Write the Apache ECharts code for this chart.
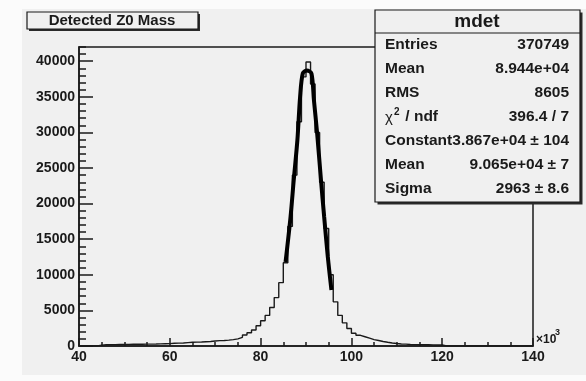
<!DOCTYPE html>
<html><head><meta charset="utf-8">
<script src="https://cdn.jsdelivr.net/npm/echarts@6/dist/echarts.min.js"></script>
<style>
html,body{margin:0;padding:0;background:#fbfbfb;}
#wrap{position:relative;width:586px;height:381px;overflow:hidden;}
#pad{position:absolute;left:22px;top:9px;width:564px;height:366px;background:#f0f0f0;}
#c{position:absolute;left:0;top:0;width:586px;height:381px;}
</style>
</head><body><div id="wrap"><div id="pad"></div><div id="c"></div></div>
<script>
// Histogram "mdet": bins of width 1 (x10^3) from 40 to 140
const binStart = 40;
const binWidth = 1;
const counts = [
  0, 0, 0, 0, 120, 180, 200, 200, 210, 220,          // 40-49
  230, 240, 240, 250, 260, 270, 280, 300, 320, 340,  // 50-59
  380, 400, 420, 480, 520, 540, 560, 600, 640, 700,  // 60-69
  750, 780, 820, 900, 1000, 1220, 1540, 1870, 2250, 2850, // 70-79
  3550, 4300, 5400, 6800, 8900, 11700, 16800, 24000, 31500, 37800, // 80-89
  39900, 36800, 30000, 23000, 16500, 10000, 6200, 4300, 3250, 2450, // 90-99
  1800, 1500, 1300, 1100, 900, 780, 640, 520, 420, 350, // 100-109
  290, 260, 220, 200, 190, 180, 170, 160, 150, 140,     // 110-119
  0, 0, 0, 0, 0, 0, 0, 0, 0, 0,                         // 120-129
  0, 0, 0, 0, 0, 0, 0, 0, 0, 0                          // 130-139
];
// Gaussian fit curve
const fitX = [85.5, 86.6, 87.3, 88.1, 88.7, 89.3, 90.2, 91.2, 91.75, 92.45, 93.3, 94.0, 94.8, 95.6];
const fitY = [11800, 18150, 23300, 28900, 35000, 38300, 38700, 38300, 34500, 29900, 23300, 18150, 12530, 7860];

const titleText = 'Detected Z0 Mass';
const statsName = 'mdet';
const statsLabels = ['Entries', 'Mean', 'RMS', 'CHI', 'Constant', 'Mean', 'Sigma'];
const statsValues = ['370749', '8.944e+04', '8605', '396.4 / 7', '3.867e+04 \u00b1 104', '9.065e+04 \u00b1 7', '2963 \u00b1 8.6'];
const xMin = 40, xMax = 140, xStep = 20;
const yMin = 0, yMax = 42000, yStep = 5000, yMinorStep = 1000;

const FONT = '"Liberation Sans", Arial, Helvetica, sans-serif';
const INK = '#1a1a1a';

const histData = counts.map((v, i) => [binStart + i * binWidth, v]);
histData.push([binStart + counts.length * binWidth, counts[counts.length - 1]]);
const fitData = fitX.map((x, i) => [x, fitY[i]]);

const chart = echarts.init(document.getElementById('c'), null, {renderer: 'canvas'});

const rowY0 = 44.5, rowDy = 24.1;
const SF = 'bold 15.5px ' + FONT;
const statsChildren = [
  {type: 'rect', shape: {x: 377.5, y: 12.5, width: 205, height: 192}, style: {fill: '#2a2a2a'}},
  {type: 'rect', shape: {x: 375, y: 10, width: 205, height: 192}, style: {fill: '#f0f0f0', stroke: INK, lineWidth: 1.2}},
  {type: 'line', shape: {x1: 375, y1: 33, x2: 580, y2: 33}, style: {stroke: INK, lineWidth: 1.2}},
  {type: 'text', x: 477, y: 22, style: {text: statsName, font: 'bold 19px ' + FONT, fill: INK, align: 'center', verticalAlign: 'middle'}}
];
statsLabels.forEach((lab, i) => {
  const y = rowY0 + i * rowDy;
  if (lab === 'CHI') {
    statsChildren.push({type: 'text', x: 385, y: y + 1, style: {text: '\u03c7', font: '15px ' + FONT, fill: INK, align: 'left', verticalAlign: 'middle'}});
    statsChildren.push({type: 'text', x: 394, y: y - 5, style: {text: '2', font: 'bold 10px ' + FONT, fill: INK, align: 'left', verticalAlign: 'middle'}});
    statsChildren.push({type: 'text', x: 401, y: y, style: {text: ' / ndf', font: SF, fill: INK, align: 'left', verticalAlign: 'middle'}});
  } else {
    statsChildren.push({type: 'text', x: 385, y: y, style: {text: lab, font: SF, fill: INK, align: 'left', verticalAlign: 'middle'}});
  }
  statsChildren.push({type: 'text', x: 569, y: y, style: {text: statsValues[i], font: SF, fill: INK, align: 'right', verticalAlign: 'middle'}});
});

const option = {
  backgroundColor: 'transparent',
  animation: false,
  grid: {left: 79, top: 47, right: 53, bottom: 35, show: true, borderColor: INK, borderWidth: 1.5, backgroundColor: 'transparent'},
  xAxis: {
    type: 'value', min: xMin, max: xMax, interval: xStep,
    axisLine: {show: true, lineStyle: {color: INK, width: 1.6}},
    axisTick: {show: true, inside: true, length: 8, lineStyle: {color: INK, width: 1.5}},
    minorTick: {show: true, splitNumber: 4, length: 4, lineStyle: {color: INK, width: 1.5}},
    splitLine: {show: false},
    axisLabel: {color: INK, fontFamily: FONT, fontWeight: 'bold', fontSize: 14, margin: 4}
  },
  yAxis: [{
    type: 'value', min: yMin, max: yMax, interval: yStep,
    axisLine: {show: true, lineStyle: {color: INK, width: 1.6}},
    axisTick: {show: true, inside: true, length: 14, lineStyle: {color: INK, width: 1.5}},
    splitLine: {show: false},
    axisLabel: {color: INK, fontFamily: FONT, fontWeight: 'bold', fontSize: 14, margin: 4, showMaxLabel: false,
      formatter: v => (v % yStep === 0 ? String(v) : '')}
  }, {
    type: 'value', min: yMin, max: yMax, interval: yMinorStep, position: 'left',
    axisLine: {show: false},
    axisTick: {show: true, inside: true, length: 7, lineStyle: {color: INK, width: 1.5}},
    axisLabel: {show: false},
    splitLine: {show: false}
  }],
  series: [{
    type: 'line', data: histData, step: 'end', symbol: 'none', yAxisIndex: 0,
    lineStyle: {color: INK, width: 1.4}, z: 3
  }, {
    type: 'line', data: fitData, smooth: 0.3, symbol: 'none', yAxisIndex: 0,
    lineStyle: {color: '#000', width: 4}, z: 4
  }],
  graphic: [
    {type: 'text', left: 536, top: 334, z: 50, style: {text: '\u00d710', font: 'bold 12px ' + FONT, fill: INK}},
    {type: 'text', left: 555, top: 328, z: 50, style: {text: '3', font: 'bold 9px ' + FONT, fill: INK}},
    {type: 'group', z: 100, children: [
      {type: 'rect', shape: {x: 29, y: 14, width: 171, height: 17}, style: {fill: '#2a2a2a'}},
      {type: 'rect', shape: {x: 27, y: 12, width: 171, height: 17}, style: {fill: '#f0f0f0', stroke: INK, lineWidth: 1.2}},
      {type: 'text', x: 112, y: 20.5, style: {text: titleText, font: 'bold 15px ' + FONT, fill: INK, align: 'center', verticalAlign: 'middle'}}
    ]},
    {type: 'group', z: 100, children: statsChildren}
  ]
};
chart.setOption(option);
</script></body></html>
